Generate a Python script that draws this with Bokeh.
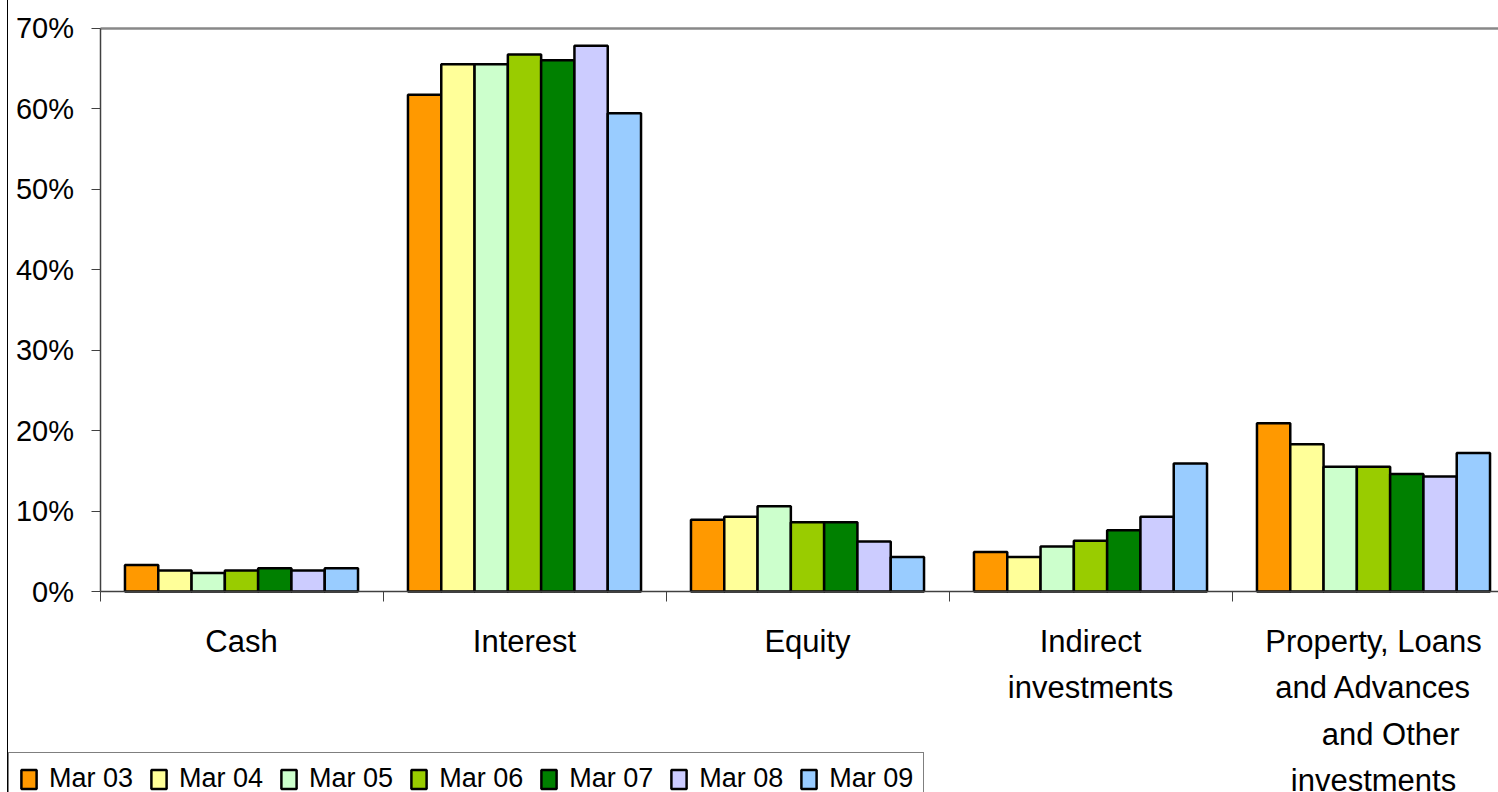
from bokeh.plotting import figure
from bokeh.models import (Range1d, FixedTicker, PrintfTickFormatter, Legend, LegendItem,
                          Div, LinearAxis)
from bokeh.layouts import row
from bokeh.embed import file_html
from bokeh.resources import INLINE

# Asset allocation by category, percent of total, one series per March year-end
categories = [
    "Cash",
    "Interest",
    "Equity",
    "Indirect\ninvestments",
    "Property, Loans\nand Advances\n\u00a0\u00a0\u00a0\u00a0and Other\ninvestments",
]
series_names = ["Mar 03", "Mar 04", "Mar 05", "Mar 06", "Mar 07", "Mar 08", "Mar 09"]
mar03 = [3.3, 61.7, 8.9, 4.9, 20.9]
mar04 = [2.6, 65.5, 9.3, 4.3, 18.3]
mar05 = [2.3, 65.5, 10.6, 5.6, 15.5]
mar06 = [2.6, 66.7, 8.6, 6.3, 15.5]
mar07 = [2.9, 66.0, 8.6, 7.6, 14.6]
mar08 = [2.6, 67.8, 6.2, 9.3, 14.3]
mar09 = [2.9, 59.4, 4.3, 15.9, 17.2]
series_values = [mar03, mar04, mar05, mar06, mar07, mar08, mar09]
colors = ["#FF9900", "#FFFF99", "#CCFFCC", "#99CC00", "#008000", "#CCCCFF", "#99CCFF"]
y_ticks = [0, 10, 20, 30, 40, 50, 60, 70]

FONT = "Liberation Sans"
n_series = len(series_names)
n_cat = len(categories)
bar_w = 1.0 / (n_series + 1.5)          # 150% gap between groups
y_max = y_ticks[-1]

# canvas geometry (px): the frame covers the whole canvas, axes sit at fixed data locations
EDGE_W = 8
W, H = 1498 - EDGE_W, 792
cat_px = 283.0                  # width of one category group
x0_px = 91.5                    # where the value axis sits
y0_px = 591.0                   # where the category axis sits
ytop_px = 27.5                  # where the top of the value scale sits
px_per_unit = (y0_px - ytop_px) / y_max

p = figure(
    width=W, height=H,
    x_range=Range1d(-x0_px / cat_px, (W - x0_px) / cat_px),
    y_range=Range1d(-(H - y0_px) / px_per_unit, y_max + ytop_px / px_per_unit),
    min_border=0, margin=0,
    output_backend="svg", toolbar_location=None,
    background_fill_color="white", border_fill_color="white",
    outline_line_color=None,
)
p.xgrid.visible = False
p.ygrid.visible = False

renderers = []
for k, (name, vals, col) in enumerate(zip(series_names, series_values, colors)):
    xs = [i + 0.5 + (k - (n_series - 1) / 2) * bar_w for i in range(n_cat)]
    r = p.vbar(x=xs, top=vals, width=bar_w, bottom=0,
               fill_color=col, line_color="black", line_width=2.5)
    renderers.append(r)

# value axis
ya = p.yaxis[0]
ya.fixed_location = 0
ya.bounds = (0, y_max)
ya.ticker = FixedTicker(ticks=y_ticks)
ya.formatter = PrintfTickFormatter(format="%d%%")
ya.major_label_text_font = FONT
ya.major_label_text_font_size = "29px"
ya.major_label_text_color = "black"
ya.major_tick_out = 9
ya.major_tick_in = 0
ya.minor_tick_line_color = None
ya.major_label_standoff = 17
ya.axis_line_color = "#404040"
ya.axis_line_width = 1.5
ya.major_tick_line_color = "#404040"

# category axis: labels at group centres, tick marks at group boundaries
xa = p.xaxis[0]
xa.fixed_location = 0
xa.bounds = (0, n_cat)
xa.ticker = FixedTicker(ticks=[i + 0.5 for i in range(n_cat)],
                        minor_ticks=list(range(n_cat + 1)))
xa.major_label_overrides = {i + 0.5: c for i, c in enumerate(categories)}
xa.major_label_text_font = FONT
xa.major_label_text_font_size = "31px"
xa.major_label_text_color = "black"
xa.major_label_text_line_height = 1.33
xa.major_tick_line_color = None
xa.major_tick_out = 0
xa.major_tick_in = 0
xa.minor_tick_line_color = "#404040"
xa.minor_tick_out = 10
xa.minor_tick_in = 0
xa.major_label_standoff = 22
xa.axis_line_color = "#404040"
xa.axis_line_width = 1.5

# grey top edge of the plot area
top_edge = LinearAxis(fixed_location=y_max, bounds=(0, n_cat),
                      axis_line_color="#888888", axis_line_width=2.5,
                      major_tick_line_color=None, minor_tick_line_color=None,
                      major_label_text_font_size="0px")
top_edge.ticker = FixedTicker(ticks=[])
p.add_layout(top_edge, "above")

# legend glyphs are inset 10% per side, so the glyph box is a bit larger than the swatch
legend = Legend(
    items=[LegendItem(label=n, renderers=[r]) for n, r in zip(series_names, renderers)],
    orientation="horizontal",
    location=(0, -13),
    glyph_width=19, glyph_height=24,
    label_standoff=11, spacing=16, padding=10, margin=0,
    label_text_font=FONT, label_text_font_size="27px", label_text_color="black",
    border_line_color="black", border_line_width=1.5,
    background_fill_color="white", background_fill_alpha=1.0,
)
p.add_layout(legend)

edge = Div(width=EDGE_W, height=H, margin=0,
           styles={"border-right": "1px solid black", "box-sizing": "border-box"})

layout = row(edge, p, spacing=0, margin=0)
open("out.html", "w").write(file_html(layout, INLINE))
